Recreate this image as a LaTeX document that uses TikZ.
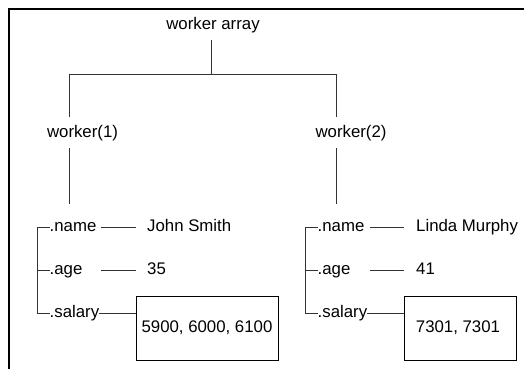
\documentclass[tikz,border=0pt]{standalone}
\usepackage{fontspec}
\setmainfont{Liberation Sans}
\begin{document}
\begin{tikzpicture}[x=1pt,y=-1pt,
  lbl/.style={inner sep=0pt,font=\fontsize{16.8}{20}\selectfont,anchor=base west},
  ttl/.style={inner sep=0pt,font=\fontsize{16.8}{20}\selectfont},
  valbox/.style={draw=black,line width=0.9pt,inner sep=0pt,minimum height=64pt,font=\fontsize{16.8}{20}\selectfont},
  ln/.style={draw=black!80,line width=0.8pt},
  frame/.style={draw=black,line width=1.3pt}]
\useasboundingbox (0,0) rectangle (524,369);
% frame (clipped by picture edge)
\draw[frame] (9,369) -- (9,9) -- (524,9);
% top of tree
\node[ttl] (top) at (213,25) {worker array};
\node[ttl] (w1) at (82.5,133) {worker(1)};
\node[ttl] (w2) at (351,133) {worker(2)};
\coordinate (t0) at (211,40);
\coordinate (j) at (211,74);
\coordinate (j1) at (69,74);
\coordinate (j2) at (336,74);
\coordinate (a1) at (69,117);
\coordinate (a2) at (336,117);
\coordinate (b1) at (69,148);
\coordinate (c1) at (69,204);
\coordinate (b2) at (336,148);
\coordinate (c2) at (336,204);
\draw[ln] (t0) -- (j);
\draw[ln] (a1) -- (j1) -- (j2) -- (a2);
\draw[ln] (b1) -- (c1);
\draw[ln] (b2) -- (c2);
% label base lines: tick y + 4.4
% worker 1 fields
\node[lbl] (n1) at (49.5,231.4) {.name};
\node[lbl] (g1) at (49.5,274.4) {.age};
\node[lbl] (s1) at (49.5,317.4) {.salary};
\node[lbl] (v1) at (147,231.4) {John Smith};
\node[lbl] (e1) at (147,274.4) {35};
\node[valbox,minimum width=142pt] (bx1) at (207,328) {5900, 6000, 6100};
\draw[ln] ([yshift=4.4pt]n1.base west) -- ++(-12.5,0) |- ([yshift=4.4pt]s1.base west);
\draw[ln] ([yshift=4.4pt]g1.base west) -- ++(-12.5,0);
\draw[ln] ([xshift=-46pt,yshift=4.4pt]v1.base west) -- ([xshift=-11pt,yshift=4.4pt]v1.base west);
\draw[ln] ([xshift=-46pt,yshift=4.4pt]e1.base west) -- ([xshift=-11pt,yshift=4.4pt]e1.base west);
\draw[ln] ([yshift=4.4pt]s1.base east) -- ([yshift=4.4pt]s1.base east -| bx1.west);
% worker 2 fields
\node[lbl] (n2) at (317.5,231.4) {.name};
\node[lbl] (g2) at (317.5,274.4) {.age};
\node[lbl] (s2) at (317.5,317.4) {.salary};
\node[lbl] (v2) at (416,231.4) {Linda Murphy};
\node[lbl] (e2) at (416,274.4) {41};
\node[valbox,minimum width=112pt] (bx2) at (460,328) {\hspace*{-4pt}7301, 7301};
\draw[ln] ([yshift=4.4pt]n2.base west) -- ++(-12.5,0) |- ([yshift=4.4pt]s2.base west);
\draw[ln] ([yshift=4.4pt]g2.base west) -- ++(-12.5,0);
\draw[ln] ([xshift=-46pt,yshift=4.4pt]v2.base west) -- ([xshift=-12pt,yshift=4.4pt]v2.base west);
\draw[ln] ([xshift=-46pt,yshift=4.4pt]e2.base west) -- ([xshift=-12pt,yshift=4.4pt]e2.base west);
\draw[ln] ([yshift=4.4pt]s2.base east) -- ([yshift=4.4pt]s2.base east -| bx2.west);
\end{tikzpicture}
\end{document}
